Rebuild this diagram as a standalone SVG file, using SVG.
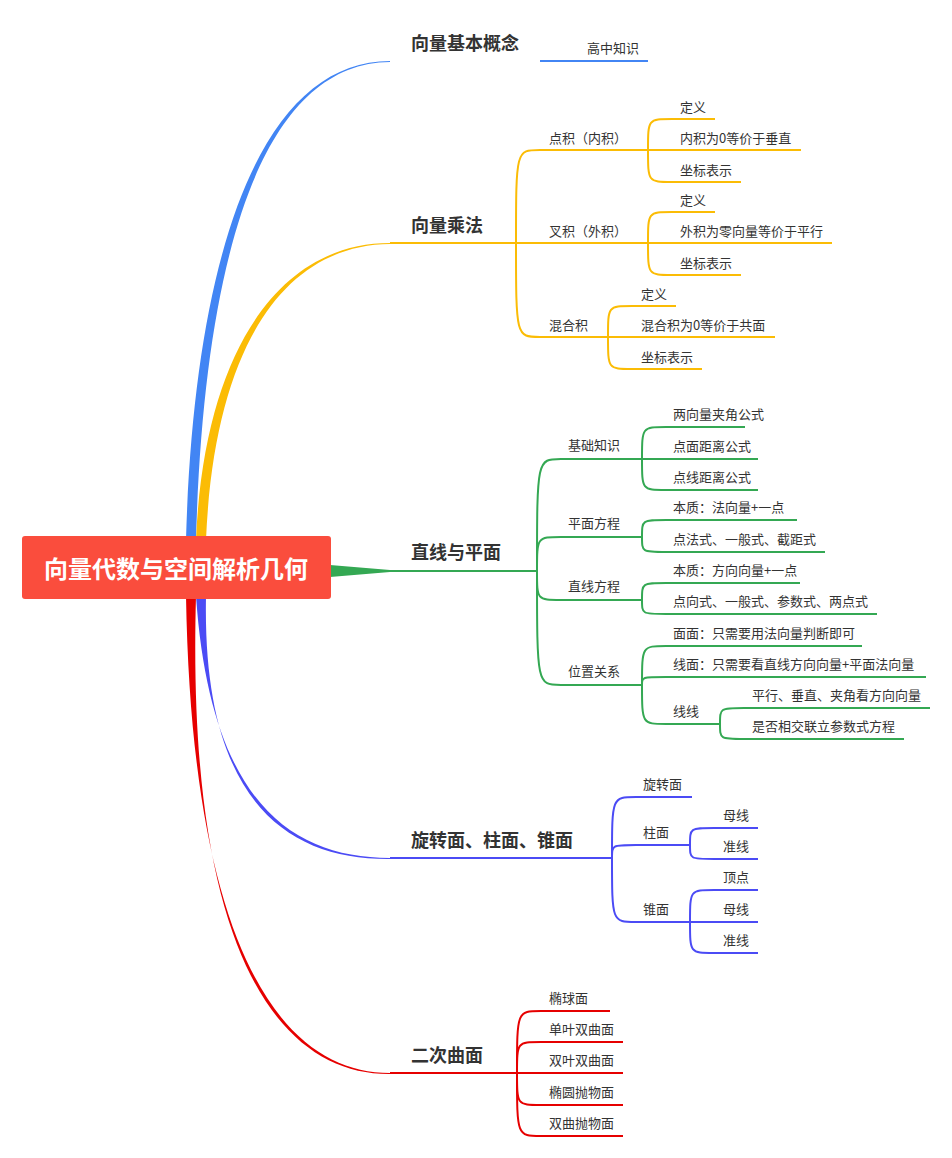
<svg xmlns="http://www.w3.org/2000/svg" width="952" height="1158" viewBox="0 0 952 1158">
<style>
.t{font-family:"Noto Sans CJK SC","Liberation Sans",sans-serif;font-size:13px;fill:#333}
.m{font-family:"Noto Sans CJK SC","Liberation Sans",sans-serif;font-size:18px;font-weight:bold;fill:#333}
.c{fill:none;stroke-width:2}
.y{stroke:#FBBC05}.g{stroke:#34A853}.p{stroke:#4B4BF5}.r{stroke:#E60000}.b{stroke:#4285F4}
</style>
<rect width="952" height="1158" fill="#fff"/>
<g id="connectors">
<path d="M186,540 C194,250 262,61 390,61 L390,62 C264,63 204,250 196,540 Z" fill="#4285F4"/>
<path d="M196,540 C204,350 280,243 390,243 L390,244 C282,245 214,350 206,540 Z" fill="#FBBC05"/>
<path d="M330,565 L390,570 L390,572 L330,577 Z" fill="#34A853"/>
<path d="M196,596 C210,800 290,858 390,858 L390,859 C286,860 202,800 206,596 Z" fill="#4B4BF5"/>
<path d="M186,596 C192,950 282,1073 390,1073 L390,1074 C278,1075 186,950 196,596 Z" fill="#E60000"/>
<g class="c y">
<path d="M516,243 C516,150 516,150 540,150"/><path d="M516,243 C516,337 516,337 540,337"/>
<path d="M648,150 C648,119 648,119 672,119"/><path d="M648,150 C648,182 648,182 672,182"/>
<path d="M648,243 C648,212 648,212 672,212"/><path d="M648,243 C648,275 648,275 672,275"/>
<path d="M608,337 C608,306 608,306 632,306"/><path d="M608,337 C608,369 608,369 632,369"/>
</g>
<g class="c g">
<path d="M537,571 C537,459 537,459 561,459"/><path d="M537,571 C537,537 537,537 561,537"/>
<path d="M537,571 C537,600 537,600 561,600"/><path d="M537,571 C537,685 537,685 561,685"/>
<path d="M642,459 C642,427 642,427 666,427"/><path d="M642,459 C642,490 642,490 666,490"/>
<path d="M642,537 C642,520 642,520 666,520"/><path d="M642,537 C642,552 642,552 666,552"/>
<path d="M642,600 C642,583 642,583 666,583"/><path d="M642,600 C642,614 642,614 666,614"/>
<path d="M642,685 C642,646 642,646 666,646"/><path d="M642,685 C642,677 642,677 666,677"/><path d="M642,685 C642,724 642,724 666,724"/>
<path d="M720,724 C720,708 720,708 744,708"/><path d="M720,724 C720,739 720,739 744,739"/>
</g>
<g class="c p">
<path d="M612,858 C612,797 612,797 636,797"/><path d="M612,858 C612,845 612,845 636,845"/><path d="M612,858 C612,922 612,922 636,922"/>
<path d="M690,845 C690,828 690,828 714,828"/><path d="M690,845 C690,859 690,859 714,859"/>
<path d="M690,922 C690,890 690,890 714,890"/><path d="M690,922 C690,953 690,953 714,953"/>
</g>
<g class="c r">
<path d="M517,1073 C517,1011 517,1011 541,1011"/><path d="M517,1073 C517,1042 517,1042 541,1042"/>
<path d="M517,1073 C517,1105 517,1105 541,1105"/><path d="M517,1073 C517,1136 517,1136 541,1136"/>
</g>
</g>
<g id="root"><rect x="22" y="536" width="309" height="63" rx="3" fill="#FA4D3D"/>
<text x="176" y="578" text-anchor="middle" font-family="'Noto Sans CJK SC',sans-serif" font-size="24" font-weight="bold" fill="#fff">向量代数与空间解析几何</text></g>

<g id="n1"><text class="m" x="411" y="50">向量基本概念</text></g>
<g id="n1a"><path class="c b" d="M540,61 H648"/><text class="t" x="587" y="53">高中知识</text></g>

<g id="n2"><text class="m" x="411" y="232">向量乘法</text><path class="c y" d="M390,243 H516"/></g>
<g id="n2a"><path class="c y" d="M540,150 H648"/><text class="t" x="549" y="143">点积（内积）</text></g>
<g id="n2a1"><path class="c y" d="M672,119 H715"/><text class="t" x="680" y="112">定义</text></g>
<g id="n2a2"><path class="c y" d="M648,150 H801"/><text class="t" x="680" y="143">内积为0等价于垂直</text></g>
<g id="n2a3"><path class="c y" d="M672,182 H741"/><text class="t" x="680" y="175">坐标表示</text></g>
<g id="n2b"><path class="c y" d="M516,243 H648"/><text class="t" x="549" y="236">叉积（外积）</text></g>
<g id="n2b1"><path class="c y" d="M672,212 H715"/><text class="t" x="680" y="205">定义</text></g>
<g id="n2b2"><path class="c y" d="M648,243 H832"/><text class="t" x="680" y="236">外积为零向量等价于平行</text></g>
<g id="n2b3"><path class="c y" d="M672,275 H741"/><text class="t" x="680" y="268">坐标表示</text></g>
<g id="n2c"><path class="c y" d="M540,337 H608"/><text class="t" x="549" y="330">混合积</text></g>
<g id="n2c1"><path class="c y" d="M632,306 H676"/><text class="t" x="641" y="299">定义</text></g>
<g id="n2c2"><path class="c y" d="M608,337 H775"/><text class="t" x="641" y="330">混合积为0等价于共面</text></g>
<g id="n2c3"><path class="c y" d="M632,369 H702"/><text class="t" x="641" y="362">坐标表示</text></g>

<g id="n3"><text class="m" x="411" y="559">直线与平面</text><path class="c g" d="M390,571 H537"/></g>
<g id="n3a"><path class="c g" d="M561,459 H642"/><text class="t" x="568" y="450">基础知识</text></g>
<g id="n3a1"><path class="c g" d="M666,427 H745"/><text class="t" x="673" y="419">两向量夹角公式</text></g>
<g id="n3a2"><path class="c g" d="M642,459 H758"/><text class="t" x="673" y="451">点面距离公式</text></g>
<g id="n3a3"><path class="c g" d="M666,490 H758"/><text class="t" x="673" y="482">点线距离公式</text></g>
<g id="n3b"><path class="c g" d="M561,537 H642"/><text class="t" x="568" y="528">平面方程</text></g>
<g id="n3b1"><path class="c g" d="M666,520 H797"/><text class="t" x="673" y="512">本质：法向量+一点</text></g>
<g id="n3b2"><path class="c g" d="M666,552 H825"/><text class="t" x="673" y="544">点法式、一般式、截距式</text></g>
<g id="n3c"><path class="c g" d="M561,600 H642"/><text class="t" x="568" y="591">直线方程</text></g>
<g id="n3c1"><path class="c g" d="M666,583 H800"/><text class="t" x="673" y="575">本质：方向向量+一点</text></g>
<g id="n3c2"><path class="c g" d="M666,614 H877"/><text class="t" x="673" y="606">点向式、一般式、参数式、两点式</text></g>
<g id="n3d"><path class="c g" d="M561,685 H642"/><text class="t" x="568" y="676">位置关系</text></g>
<g id="n3d1"><path class="c g" d="M666,646 H862"/><text class="t" x="673" y="638">面面：只需要用法向量判断即可</text></g>
<g id="n3d2"><path class="c g" d="M666,677 H926"/><text class="t" x="673" y="669">线面：只需要看直线方向向量+平面法向量</text></g>
<g id="n3d3"><path class="c g" d="M666,724 H720"/><text class="t" x="673" y="716">线线</text></g>
<g id="n3d31"><path class="c g" d="M744,708 H930"/><text class="t" x="752" y="700">平行、垂直、夹角看方向向量</text></g>
<g id="n3d32"><path class="c g" d="M744,739 H904"/><text class="t" x="752" y="731">是否相交联立参数式方程</text></g>

<g id="n4"><text class="m" x="411" y="847">旋转面、柱面、锥面</text><path class="c p" d="M390,858 H612"/></g>
<g id="n4a"><path class="c p" d="M636,797 H692"/><text class="t" x="643" y="789">旋转面</text></g>
<g id="n4b"><path class="c p" d="M636,845 H690"/><text class="t" x="643" y="837">柱面</text></g>
<g id="n4b1"><path class="c p" d="M714,828 H758"/><text class="t" x="723" y="820">母线</text></g>
<g id="n4b2"><path class="c p" d="M714,859 H758"/><text class="t" x="723" y="851">准线</text></g>
<g id="n4c"><path class="c p" d="M636,922 H690"/><text class="t" x="643" y="914">锥面</text></g>
<g id="n4c1"><path class="c p" d="M714,890 H758"/><text class="t" x="723" y="882">顶点</text></g>
<g id="n4c2"><path class="c p" d="M690,922 H758"/><text class="t" x="723" y="914">母线</text></g>
<g id="n4c3"><path class="c p" d="M714,953 H758"/><text class="t" x="723" y="945">准线</text></g>

<g id="n5"><text class="m" x="411" y="1062">二次曲面</text><path class="c r" d="M390,1073 H517"/></g>
<g id="n5a"><path class="c r" d="M541,1011 H610"/><text class="t" x="549" y="1003">椭球面</text></g>
<g id="n5b"><path class="c r" d="M541,1042 H623"/><text class="t" x="549" y="1034">单叶双曲面</text></g>
<g id="n5c"><path class="c r" d="M517,1073 H623"/><text class="t" x="549" y="1065">双叶双曲面</text></g>
<g id="n5d"><path class="c r" d="M541,1105 H623"/><text class="t" x="549" y="1097">椭圆抛物面</text></g>
<g id="n5e"><path class="c r" d="M541,1136 H623"/><text class="t" x="549" y="1128">双曲抛物面</text></g>
</svg>
